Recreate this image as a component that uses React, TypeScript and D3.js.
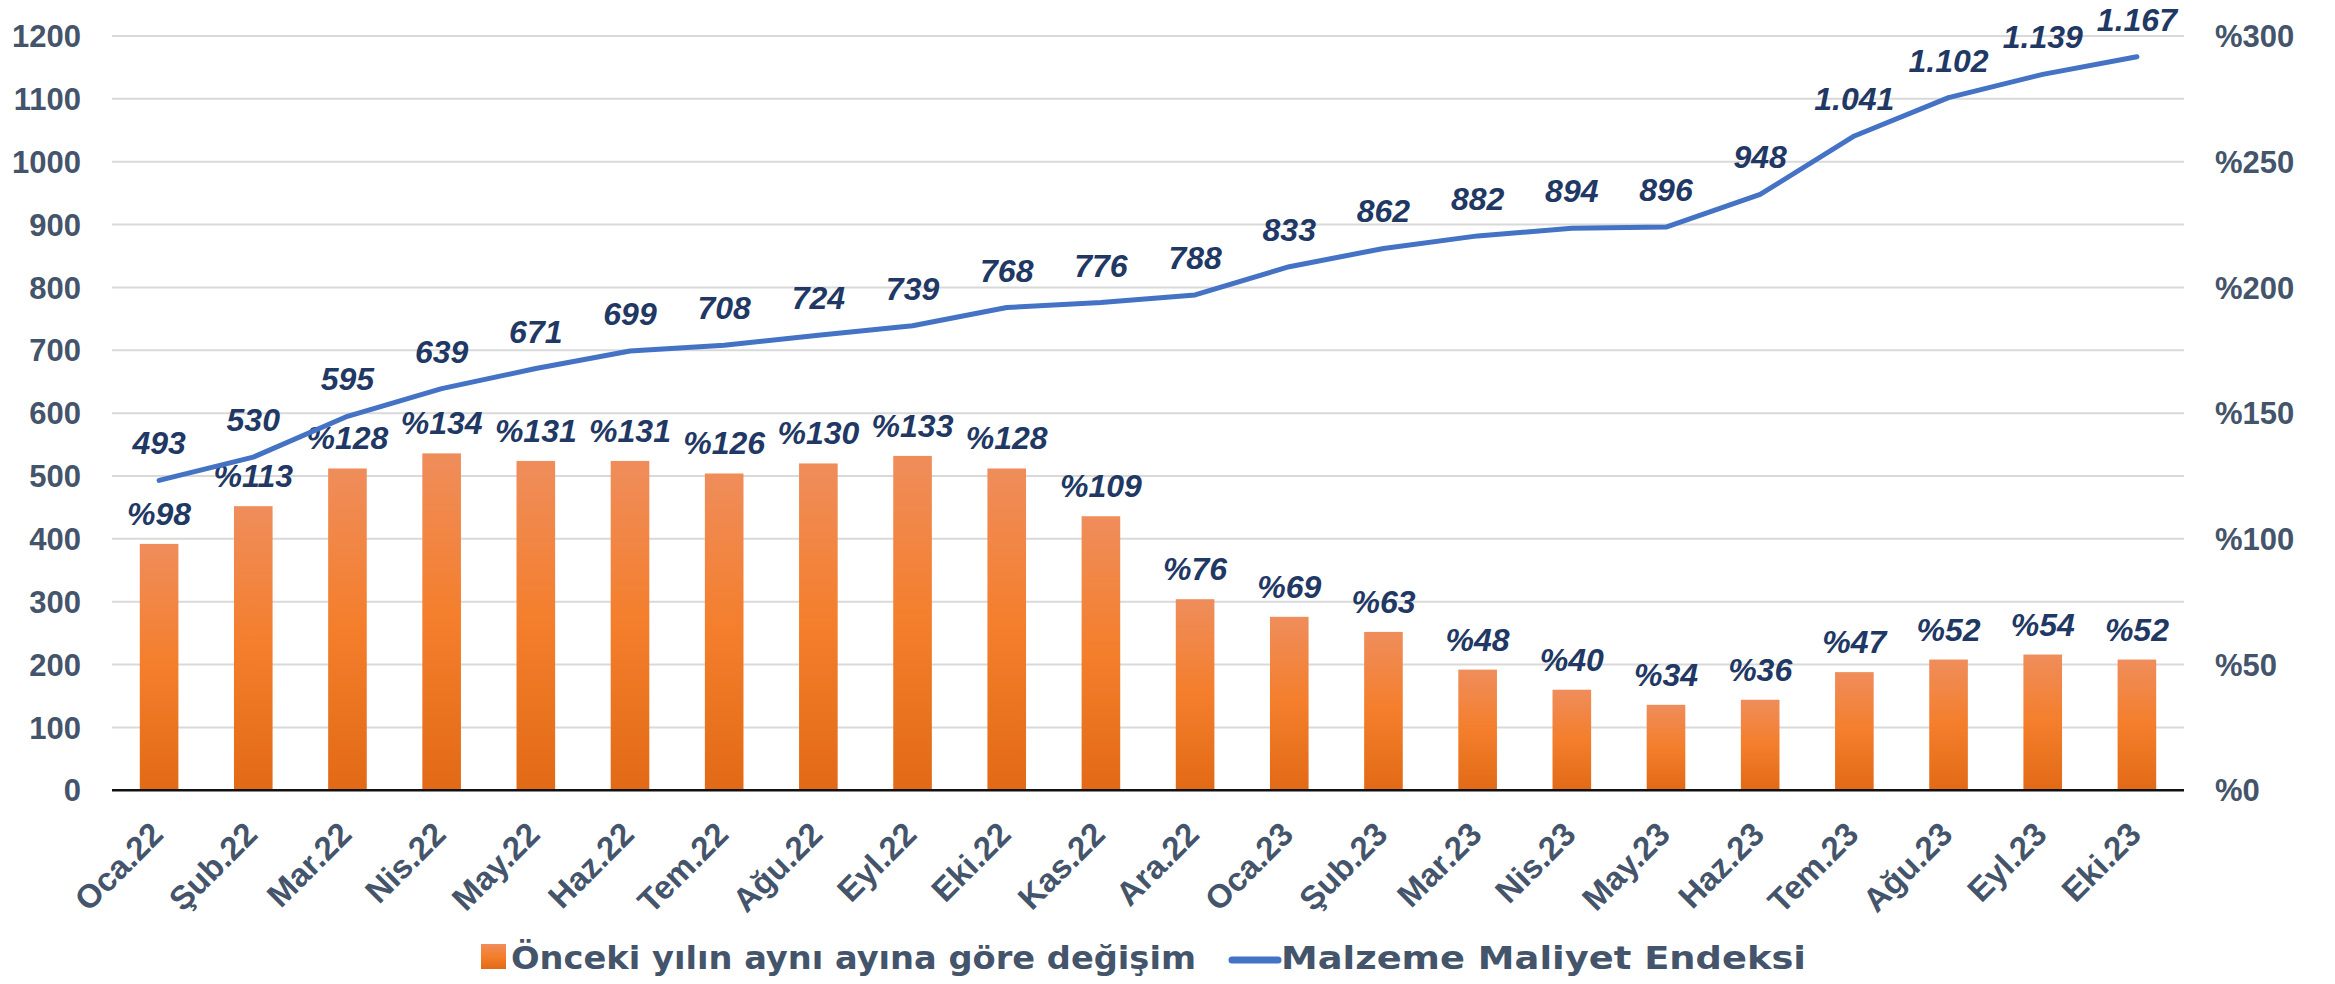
import React from "react";
import * as d3 from "d3";

const categories = ["Oca.22","Şub.22","Mar.22","Nis.22","May.22","Haz.22","Tem.22","Ağu.22","Eyl.22","Eki.22","Kas.22","Ara.22","Oca.23","Şub.23","Mar.23","Nis.23","May.23","Haz.23","Tem.23","Ağu.23","Eyl.23","Eki.23"];
const yoyChange = [98,113,128,134,131,131,126,130,133,128,109,76,69,63,48,40,34,36,47,52,54,52];
const costIndex = [493,530,595,639,671,699,708,724,739,768,776,788,833,862,882,894,896,948,1041,1102,1139,1167];
const leftTicks = [0,100,200,300,400,500,600,700,800,900,1000,1100,1200];
const rightTicks = [0,50,100,150,200,250,300];
const barLegend = "Önceki yılın aynı ayına göre değişim";
const lineLegend = "Malzeme Maliyet Endeksi";

const W = 2335, H = 984;
const M = { left: 112, right: 2184, top: 36, bottom: 790.3 };
const FONT = "'Liberation Sans', Arial, sans-serif";
const WIDE = "'DejaVu Sans', 'Liberation Sans', sans-serif";
const AXIS_COLOR = "#44546A";
const LABEL_COLOR = "#1F3864";
const LINE_COLOR = "#4472C4";

const trLocale = d3.formatLocale({ decimal: ",", thousands: ".", grouping: [3], currency: ["", "₺"] });
const fmtIdx = trLocale.format(",d");

export default function App() {
  const x = d3.scaleBand<string>().domain(categories).range([M.left, M.right]).paddingInner(0.59).paddingOuter(0.295);
  const yL = d3.scaleLinear().domain([0, 1200]).range([M.bottom, M.top]);
  const yR = d3.scaleLinear().domain([0, 300]).range([M.bottom, M.top]);
  const cx = (c: string) => (x(c) as number) + x.bandwidth() / 2;
  const line = d3.line<number>().x((_, i) => cx(categories[i])).y(d => yL(d));

  return (
    <svg width={W} height={H} style={{ position: "absolute", left: 0, top: 0, background: "#fff" }} fontFamily={FONT}>
      <defs>
        <linearGradient id="barGrad" x1="0" y1="0" x2="0" y2="1">
          <stop offset="0%" stopColor="#EF8D5B" />
          <stop offset="50%" stopColor="#F47E2B" />
          <stop offset="100%" stopColor="#E26A17" />
        </linearGradient>
      </defs>
      {/* gridlines */}
      {leftTicks.filter(t => t > 0).map(t => (
        <line key={t} x1={M.left} x2={M.right} y1={yL(t)} y2={yL(t)} stroke="#D9D9D9" strokeWidth={2} />
      ))}
      {/* left axis labels */}
      {leftTicks.map(t => (
        <text key={"l" + t} x={81} y={yL(t)} dy="0.36em" textAnchor="end" fontSize={31} fontWeight="bold" fill={AXIS_COLOR}>{t}</text>
      ))}
      {/* right axis labels */}
      {rightTicks.map(t => (
        <text key={"r" + t} x={2215} y={yR(t)} dy="0.36em" textAnchor="start" fontSize={31} fontWeight="bold" fill={AXIS_COLOR}>{"%" + t}</text>
      ))}
      {/* bars */}
      {yoyChange.map((v, i) => (
        <rect key={"b" + i} x={x(categories[i])} y={yR(v)} width={x.bandwidth()} height={M.bottom - yR(v)} fill="url(#barGrad)" />
      ))}
      {/* axis baseline */}
      <line x1={M.left} x2={M.right} y1={M.bottom} y2={M.bottom} stroke="#111" strokeWidth={2.5} />
      {/* bar labels */}
      {yoyChange.map((v, i) => (
        <text key={"bl" + i} x={cx(categories[i])} y={yR(v) - 19} textAnchor="middle" fontSize={32} fontWeight="bold" fontStyle="italic" fill={LABEL_COLOR}>{"%" + v}</text>
      ))}
      {/* line */}
      <path d={line(costIndex) || ""} fill="none" stroke={LINE_COLOR} strokeWidth={5} strokeLinecap="round" strokeLinejoin="round" />
      {/* line labels */}
      {costIndex.map((v, i) => (
        <text key={"ll" + i} x={cx(categories[i])} y={yL(v) - 26} textAnchor="middle" fontSize={32} fontWeight="bold" fontStyle="italic" fill={LABEL_COLOR}>{fmtIdx(v)}</text>
      ))}
      {/* x labels */}
      {categories.map(c => (
        <text key={"x" + c} transform={`translate(${cx(c) + 6},${M.bottom + 46}) rotate(-45)`} textAnchor="end" fontSize={33} fontWeight="bold" fill={AXIS_COLOR}>{c}</text>
      ))}
      {/* legend */}
      <rect x={481} y={944} width={25} height={25} fill="url(#barGrad)" />
      <text x={511} y={957} dy="0.36em" fontFamily={WIDE} fontSize={32} fontWeight="bold" fill={AXIS_COLOR} textLength={685} lengthAdjust="spacingAndGlyphs">{barLegend}</text>
      <line x1={1232} x2={1278} y1={960} y2={960} stroke={LINE_COLOR} strokeWidth={7} strokeLinecap="round" />
      <text x={1281} y={957} dy="0.36em" fontFamily={WIDE} fontSize={32} fontWeight="bold" fill={AXIS_COLOR} textLength={525} lengthAdjust="spacingAndGlyphs">{lineLegend}</text>
    </svg>
  );
}
